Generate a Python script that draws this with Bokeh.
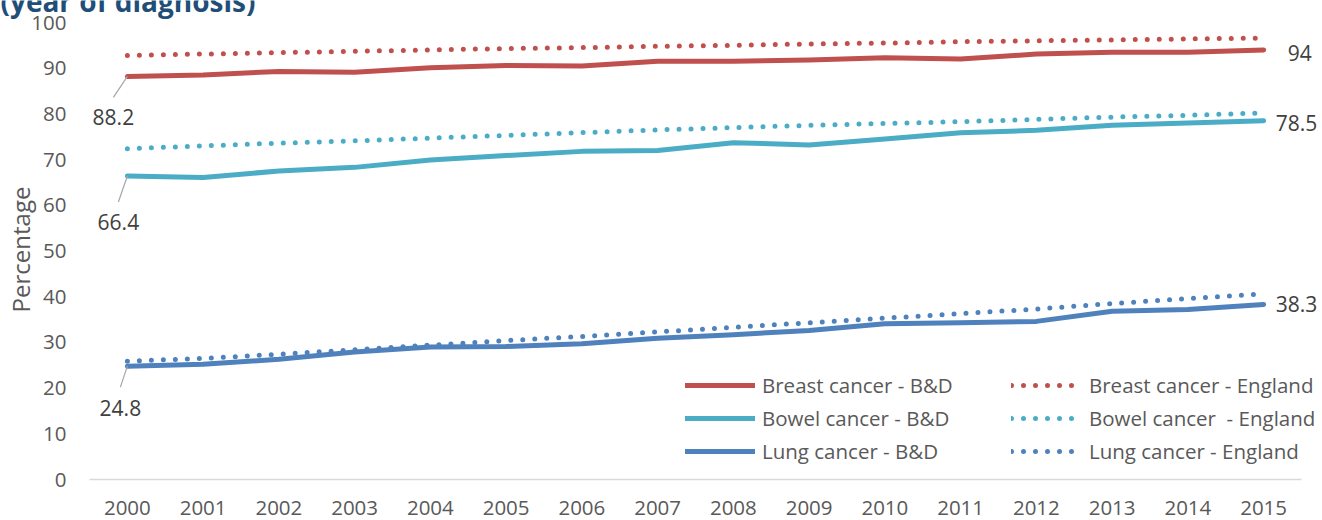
from math import pi
from bokeh.plotting import figure
from bokeh.models import (Range1d, FixedTicker, Legend, LegendItem, Label, LabelSet,
                          ColumnDataSource)
from bokeh.core.properties import value
from bokeh.embed import file_html
from bokeh.resources import INLINE

# ---------------- data ----------------
years = [2000, 2001, 2002, 2003, 2004, 2005, 2006, 2007,
         2008, 2009, 2010, 2011, 2012, 2013, 2014, 2015]
breast_bd = [88.2, 88.5, 89.3, 89.1, 90.1, 90.6, 90.5, 91.5, 91.5, 91.8, 92.3, 92.0, 93.1, 93.5, 93.5, 94.0]
breast_eng = [92.8, 93.1, 93.4, 93.7, 94.0, 94.3, 94.5, 94.8, 95.0, 95.3, 95.5, 95.8, 96.0, 96.2, 96.4, 96.6]
bowel_bd = [66.4, 66.1, 67.5, 68.3, 69.9, 70.9, 71.8, 72.0, 73.7, 73.2, 74.5, 75.9, 76.4, 77.5, 78.0, 78.5]
bowel_eng = [72.4, 73.0, 73.6, 74.1, 74.7, 75.3, 75.9, 76.5, 77.0, 77.5, 77.9, 78.3, 78.8, 79.3, 79.7, 80.2]
lung_bd = [24.8, 25.2, 26.3, 27.9, 29.0, 29.1, 29.7, 30.9, 31.7, 32.6, 34.1, 34.3, 34.6, 36.8, 37.2, 38.3]
lung_eng = [25.9, 26.5, 27.4, 28.4, 29.4, 30.4, 31.3, 32.3, 33.3, 34.3, 35.3, 36.3, 37.3, 38.5, 39.6, 40.6]

series_labels_bd = ["Breast cancer - B&D", "Bowel cancer - B&D", "Lung cancer - B&D"]
series_labels_eng = ["Breast cancer - England", "Bowel cancer  - England", "Lung cancer - England"]
y_ticks = [0, 10, 20, 30, 40, 50, 60, 70, 80, 90, 100]
y_max = 100
title_text = "(year of diagnosis)"
y_title = "Percentage"

# ---------------- style / geometry ----------------
RED, CYAN, BLUE = "#C0504D", "#4BACC6", "#4F81BD"
TXT = "#595959"
FONT = "Open Sans"

W, H = 1322, 520
PLOT_L, PLOT_R, PLOT_T, PLOT_B = 89, 1301, 22, 479      # plot area in pixels
px_x = (PLOT_R - PLOT_L) / len(years)                   # pixels per year
px_y = (PLOT_B - PLOT_T) / y_max                        # pixels per percent

x0 = years[0] - 0.5 - PLOT_L / px_x
x1 = years[-1] + 0.5 + (W - PLOT_R) / px_x
y0 = -(H - PLOT_B) / px_y
y1 = y_max + PLOT_T / px_y

p = figure(width=W, height=H, output_backend="svg", toolbar_location=None,
           x_range=Range1d(x0, x1), y_range=Range1d(y0, y1),
           min_border_left=0, min_border_right=0, min_border_top=0, min_border_bottom=0)
p.outline_line_color = None
p.xgrid.visible = False
p.ygrid.visible = False
p.background_fill_color = "white"
p.border_fill_color = "white"

# axes (drawn at fixed positions inside the canvas)
p.xaxis.ticker = FixedTicker(ticks=years)
p.yaxis.ticker = FixedTicker(ticks=y_ticks)
for ax in (p.xaxis[0], p.yaxis[0]):
    ax.major_tick_in = 0
    ax.major_tick_out = 0
    ax.minor_tick_in = 0
    ax.minor_tick_out = 0
    ax.axis_line_color = None
    ax.major_label_text_font = FONT
    ax.major_label_text_font_size = "20.5px"
    ax.major_label_text_color = TXT
p.xaxis.fixed_location = 0
p.xaxis.major_label_standoff = 21
p.yaxis.fixed_location = years[0] - 0.5
p.yaxis.major_label_standoff = 23

# category-axis base line
p.segment(x0=[years[0] - 0.5], y0=[0], x1=[years[-1] + 0.5], y1=[0],
          line_color="#D9D9D9", line_width=1.5)

# lines
solid, dotted = [], []
for bd, col in [(breast_bd, RED), (bowel_bd, CYAN), (lung_bd, BLUE)]:
    solid.append(p.line(years, bd, line_color=col, line_width=5,
                        line_cap="round", line_join="round"))
for eng, col in [(breast_eng, RED), (bowel_eng, CYAN), (lung_eng, BLUE)]:
    dotted.append(p.line(years, eng, line_color=col, line_width=5,
                         line_cap="round", line_dash="0 12"))

# data labels (left, with leader lines)
start_vals = [breast_bd[0], bowel_bd[0], lung_bd[0]]
lead_dx = [-14, -9, -7]
lead_dy = [21, 26, 21]
text_dy = [41, 46, 42]
p.segment(x0=[years[0]] * 3, y0=start_vals,
          x1=[years[0] + d / px_x for d in lead_dx],
          y1=[v - d / px_y for v, d in zip(start_vals, lead_dy)],
          line_color="#A6A6A6", line_width=1.2)
src_l = ColumnDataSource(dict(x=[years[0]] * 3, y=start_vals,
                              t=[f"{v:g}" for v in start_vals],
                              xo=lead_dx, yo=[-d for d in text_dy]))
p.add_layout(LabelSet(x="x", y="y", text="t", x_offset="xo", y_offset="yo", source=src_l,
                      text_align="center", text_baseline="middle", text_font=value(FONT),
                      text_font_size="21px", text_color="#404040"))

# data labels (right)
end_vals = [breast_bd[-1], bowel_bd[-1], lung_bd[-1]]
src_r = ColumnDataSource(dict(x=[years[-1]] * 3, y=end_vals,
                              t=[f"{v:g}" for v in end_vals],
                              xo=[24, 12, 12], yo=[-3, -2, 0]))
p.add_layout(LabelSet(x="x", y="y", text="t", x_offset="xo", y_offset="yo", source=src_r,
                      text_align="left", text_baseline="middle", text_font=value(FONT),
                      text_font_size="21px", text_color="#404040"))

# legends (two columns)
common = dict(glyph_height=20, label_height=20, spacing=5, padding=0, margin=0,
              border_line_color=None, background_fill_alpha=0,
              label_text_font=FONT, label_text_font_size="20.5px", label_text_color=TXT)
leg1 = Legend(items=[LegendItem(label=l, renderers=[r]) for l, r in zip(series_labels_bd, solid)],
              location=(685, H - PLOT_B + 14), glyph_width=70, label_standoff=7, **common)
leg2 = Legend(items=[LegendItem(label=l, renderers=[r]) for l, r in zip(series_labels_eng, dotted)],
              location=(1011, H - PLOT_B + 14), glyph_width=66, label_standoff=12, **common)
p.add_layout(leg1)
p.add_layout(leg2)

# axis title & chart title (screen units measured from the canvas bottom-left)
p.add_layout(Label(x=20, y=H - 249, x_units="screen", y_units="screen", text=y_title,
                   angle=pi / 2, text_align="center", text_baseline="middle",
                   text_font=FONT, text_font_size="24px", text_color=TXT))
p.add_layout(Label(x=0, y=H - 0.5, x_units="screen", y_units="screen", text=title_text,
                   text_align="left", text_baseline="alphabetic",
                   text_font=FONT, text_font_style="bold", text_font_size="28px",
                   text_color="#1F4E79"))

open("out.html", "w").write(file_html(p, INLINE))
